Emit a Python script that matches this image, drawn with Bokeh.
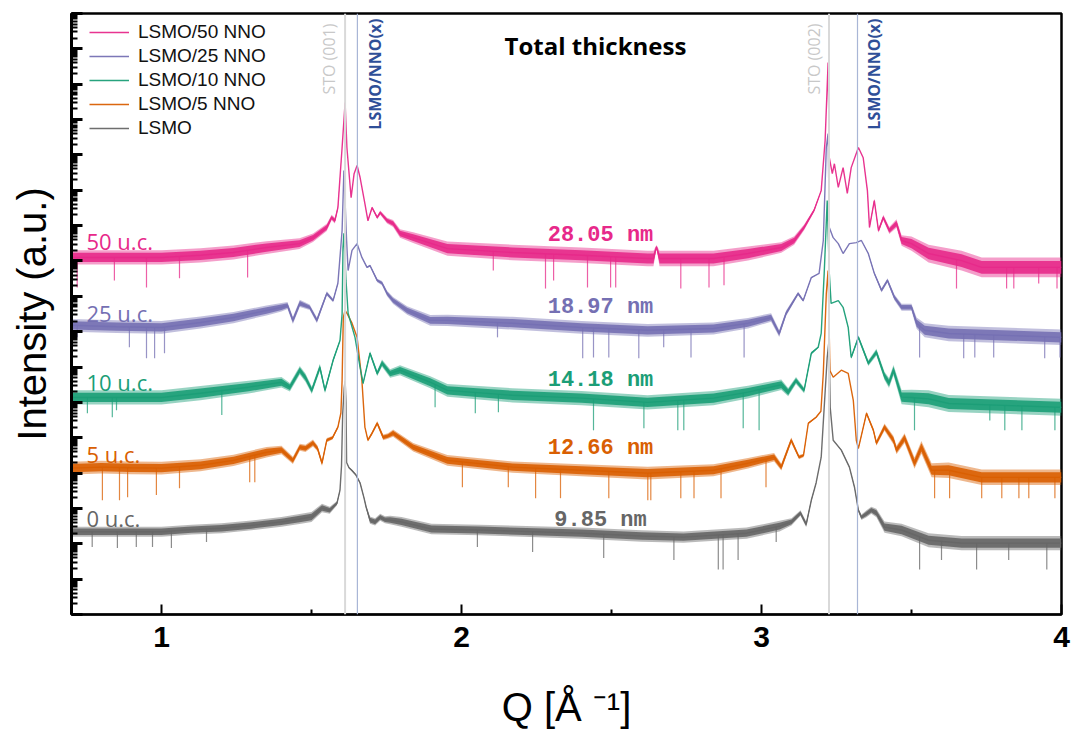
import numpy as np
from math import pi
from bokeh.plotting import figure
from bokeh.models import Range1d, FixedTicker, Label, Span, Legend, LegendItem, PrintfTickFormatter
from bokeh.embed import file_html
from bokeh.resources import INLINE

# ---------------- data (log10 of plotted intensity, offsets included) ----------------
series_names = ["LSMO/50 NNO", "LSMO/25 NNO", "LSMO/10 NNO", "LSMO/5 NNO", "LSMO"]
series_colors = ["#e7298a", "#7570b3", "#1b9e77", "#d95f02", "#666666"]
uc_labels = ["50 u.c.", "25 u.c.", "10 u.c.", "5 u.c.", "0 u.c."]
thickness_labels = ["28.05 nm", "18.97 nm", "14.18 nm", "12.66 nm", "9.85 nm"]
sto_peaks_q = [1.612, 3.225]
sto_peak_names = ["STO (001)", "STO (002)"]
film_peaks_q = [1.653, 3.320]
film_peak_names = ["LSMO/NNO(x)", "LSMO/NNO(x)"]
x_ticks = [1, 2, 3, 4]
x_minor = [1.5, 2.5, 3.5]
x_title = "Q [Å ⁻¹]"
y_title = "Intensity (a.u.)"
plot_title = "Total thickness"

lsmo_q = [0.70, 0.80, 0.90, 1.00, 1.10, 1.20, 1.30, 1.40, 1.46, 1.50, 1.535, 1.561, 1.585, 1.595, 1.600,
          1.604, 1.609, 1.612, 1.615, 1.617, 1.625, 1.634, 1.648, 1.662, 1.675, 1.682, 1.695, 1.712, 1.729,
          1.745, 1.762, 1.80, 1.90, 2.06, 2.40, 2.60, 2.74, 2.95, 3.06, 3.10, 3.13, 3.149, 3.166, 3.182,
          3.199, 3.209, 3.219, 3.225, 3.229, 3.239, 3.266, 3.293, 3.310, 3.323, 3.333, 3.350, 3.366, 3.383,
          3.410, 3.467, 3.557, 3.667, 3.80, 4.00]
lsmo_log = [2.34, 2.34, 2.34, 2.34, 2.40, 2.44, 2.52, 2.62, 2.70, 2.76, 3.01, 2.95, 3.15, 3.52, 4.20,
            5.69, 6.40, 6.62, 6.00, 4.30, 4.15, 4.08, 3.95, 3.72, 3.30, 3.04, 2.67, 2.62, 2.75,
            2.68, 2.67, 2.62, 2.42, 2.39, 2.30, 2.22, 2.19, 2.30, 2.50, 2.62, 2.87, 2.55, 3.23, 3.72,
            4.45, 5.86, 7.27, 7.75, 5.86, 4.93, 4.65, 4.17, 3.60, 2.95, 2.75, 2.85, 2.95, 2.87,
            2.47, 2.39, 2.10, 2.02, 2.02, 2.02]
lsmo_noise = [0.14, 0.14, 0.14, 0.14, 0.14, 0.14, 0.14, 0.14, 0.14, 0.14, 0.12, 0.10, 0.06, 0.03, 0.0,
              0.0, 0.0, 0.0, 0.0, 0.0, 0.02, 0.03, 0.03, 0.03, 0.03, 0.05, 0.10, 0.10, 0.10,
              0.10, 0.12, 0.14, 0.15, 0.15, 0.16, 0.16, 0.16, 0.16, 0.15, 0.10, 0.08, 0.08, 0.04, 0.02,
              0.0, 0.0, 0.0, 0.0, 0.0, 0.0, 0.02, 0.02, 0.03, 0.05, 0.08, 0.10, 0.10, 0.12,
              0.16, 0.18, 0.20, 0.20, 0.20, 0.20]
lsmo_spike_q = [0.769, 0.853, 0.916, 0.970, 1.033, 1.150, 2.053, 2.237, 2.474, 2.708, 2.856, 2.872, 2.922,
                3.049, 3.527, 3.600, 3.717, 3.824, 3.951]
lsmo_spike_log = [1.91, 1.88, 1.91, 1.91, 1.88, 2.05, 1.91, 1.77, 1.60, 1.54, 1.27, 1.27, 1.54,
                  2.05, 1.27, 1.54, 1.27, 1.54, 1.27]

nno5_q = [0.70, 0.80, 0.90, 1.00, 1.13, 1.24, 1.35, 1.40, 1.438, 1.461, 1.48, 1.505, 1.52, 1.535, 1.551,
          1.57, 1.588, 1.598, 1.602, 1.606, 1.612, 1.618, 1.635, 1.652, 1.668, 1.678, 1.688, 1.70, 1.719,
          1.739, 1.755, 1.772, 1.839, 1.953, 2.17, 2.40, 2.62, 2.84, 2.955, 3.042, 3.066, 3.099, 3.125,
          3.14, 3.156, 3.182, 3.198, 3.206, 3.216, 3.222, 3.228, 3.239, 3.266, 3.289, 3.306, 3.316, 3.323,
          3.350, 3.373, 3.383, 3.410, 3.440, 3.450, 3.477, 3.510, 3.533, 3.567, 3.624, 3.734, 3.85, 4.00]
nno5_log = [4.14, 4.17, 4.15, 4.14, 4.22, 4.36, 4.59, 4.65, 4.36, 4.73, 4.70, 4.85, 4.70, 4.28, 4.93,
            5.00, 5.30, 5.70, 6.62, 8.40, 8.60, 8.52, 8.24, 7.84, 6.62, 5.30, 4.93, 5.10, 5.41,
            5.01, 5.05, 5.13, 4.73, 4.36, 4.17, 4.08, 4.00, 4.08, 4.28, 4.45, 4.17, 4.93, 4.45,
            4.50, 5.41, 5.58, 5.75, 6.82, 9.08, 9.73, 6.90, 6.71, 6.91, 6.82, 6.06, 4.93, 4.70,
            5.69, 5.21, 4.85, 5.30, 4.93, 4.65, 4.99, 4.28, 4.73, 4.08, 4.08, 3.88, 3.88, 3.88]
nno5_noise = [0.18, 0.18, 0.18, 0.18, 0.17, 0.16, 0.15, 0.12, 0.10, 0.10, 0.10, 0.10, 0.08, 0.08, 0.06,
              0.05, 0.04, 0.02, 0.0, 0.0, 0.0, 0.0, 0.0, 0.0, 0.0, 0.02, 0.04, 0.05, 0.06,
              0.08, 0.08, 0.10, 0.12, 0.15, 0.16, 0.17, 0.18, 0.17, 0.15, 0.12, 0.10, 0.08, 0.06,
              0.05, 0.03, 0.02, 0.0, 0.0, 0.0, 0.0, 0.0, 0.0, 0.0, 0.0, 0.0, 0.02, 0.03,
              0.05, 0.06, 0.08, 0.10, 0.12, 0.12, 0.14, 0.16, 0.18, 0.20, 0.22, 0.22, 0.22, 0.22]
nno5_spike_q = [0.803, 0.860, 0.887, 0.983, 1.060, 1.294, 1.311, 2.003, 2.156, 2.247, 2.330, 2.491, 2.621,
                2.631, 2.731, 2.775, 2.865, 3.015, 3.577, 3.627, 3.734, 3.801, 3.858, 3.891, 3.978]
nno5_spike_log = [3.23, 3.23, 3.32, 3.38, 3.57, 3.74, 3.74, 3.60, 3.60, 3.29, 3.29, 3.29, 3.23,
                  3.23, 3.29, 3.29, 3.29, 3.60, 3.29, 3.29, 3.29, 3.29, 3.29, 3.29, 3.29]

nno10_q = [0.70, 0.85, 1.00, 1.13, 1.29, 1.40, 1.428, 1.461, 1.48, 1.501, 1.528, 1.545, 1.572, 1.595, 1.602,
           1.605, 1.608, 1.612, 1.615, 1.622, 1.645, 1.662, 1.672, 1.695, 1.719, 1.735, 1.762, 1.795, 1.896,
           1.953, 2.17, 2.40, 2.62, 2.84, 2.955, 3.066, 3.089, 3.115, 3.142, 3.166, 3.189, 3.199, 3.209,
           3.219, 3.226, 3.232, 3.256, 3.272, 3.289, 3.299, 3.323, 3.356, 3.383, 3.410, 3.425, 3.440, 3.467,
           3.50, 3.557, 3.624, 4.00]
nno10_log = [6.14, 6.14, 6.14, 6.26, 6.43, 6.57, 6.43, 6.91, 6.70, 6.34, 6.99, 6.34, 7.19, 7.75, 8.50,
             10.38, 10.78, 10.00, 9.45, 8.52, 7.84, 6.99, 6.54, 7.39, 6.82, 7.11, 6.82, 6.91, 6.57,
             6.34, 6.20, 6.12, 6.00, 6.12, 6.29, 6.50, 6.29, 6.62, 6.34, 7.39, 7.56, 7.95, 9.65,
             11.71, 9.65, 8.80, 8.88, 8.69, 8.12, 7.27, 7.84, 7.11, 7.42, 6.75, 6.55, 6.91, 6.15,
             6.14, 6.10, 5.97, 5.86]
nno10_noise = [0.20, 0.20, 0.20, 0.20, 0.18, 0.15, 0.12, 0.12, 0.12, 0.10, 0.10, 0.08, 0.06, 0.03, 0.0,
               0.0, 0.0, 0.0, 0.0, 0.0, 0.0, 0.02, 0.04, 0.06, 0.08, 0.10, 0.12, 0.14, 0.17,
               0.18, 0.20, 0.20, 0.20, 0.20, 0.18, 0.15, 0.12, 0.10, 0.08, 0.04, 0.02, 0.0, 0.0,
               0.0, 0.0, 0.0, 0.0, 0.0, 0.02, 0.04, 0.06, 0.08, 0.10, 0.12, 0.14, 0.15, 0.20,
               0.22, 0.24, 0.24, 0.24]
nno10_spike_q = [0.753, 0.836, 0.850, 1.201, 1.912, 2.046, 2.123, 2.440, 2.608, 2.721, 2.741, 2.939, 2.992,
                 3.510, 3.761, 3.811, 3.868, 3.978]
nno10_spike_log = [5.69, 5.58, 5.78, 5.64, 5.86, 5.69, 5.72, 5.21, 5.27, 5.21, 5.21, 5.27, 5.21,
                   5.21, 5.49, 5.21, 5.21, 5.21]

nno25_q = [0.70, 0.85, 1.00, 1.13, 1.24, 1.35, 1.40, 1.42, 1.438, 1.461, 1.494, 1.518, 1.551, 1.572, 1.588,
           1.602, 1.608, 1.617, 1.622, 1.635, 1.652, 1.668, 1.685, 1.695, 1.719, 1.735, 1.752, 1.772, 1.819,
           1.896, 1.953, 2.17, 2.40, 2.62, 2.84, 2.955, 3.032, 3.059, 3.082, 3.122, 3.139, 3.166, 3.192,
           3.206, 3.216, 3.222, 3.226, 3.239, 3.256, 3.272, 3.293, 3.316, 3.333, 3.356, 3.376, 3.400, 3.420,
           3.443, 3.467, 3.500, 3.517, 3.544, 3.624, 4.00]
nno25_log = [8.18, 8.14, 8.12, 8.26, 8.40, 8.60, 8.69, 8.74, 8.32, 8.80, 8.69, 8.32, 9.08, 8.88, 9.37,
             10.86, 12.56, 10.58, 9.73, 10.30, 10.49, 10.10, 9.82, 9.87, 9.45, 9.37, 9.08, 8.88, 8.60,
             8.32, 8.32, 8.24, 8.12, 8.04, 8.09, 8.24, 8.40, 7.95, 8.52, 9.08, 8.88, 9.53, 9.65,
             10.58, 13.21, 13.60, 10.95, 10.66, 10.49, 10.21, 10.49, 10.52, 10.58, 10.21, 9.65, 9.17, 9.45,
             8.97, 8.69, 8.69, 8.24, 8.04, 7.95, 7.84]
nno25_noise = [0.18, 0.18, 0.18, 0.17, 0.16, 0.14, 0.12, 0.10, 0.10, 0.10, 0.08, 0.08, 0.06, 0.05, 0.03,
               0.0, 0.0, 0.0, 0.0, 0.0, 0.0, 0.0, 0.02, 0.03, 0.05, 0.06, 0.08, 0.10, 0.12,
               0.15, 0.16, 0.18, 0.18, 0.18, 0.17, 0.15, 0.12, 0.10, 0.08, 0.05, 0.04, 0.02, 0.0,
               0.0, 0.0, 0.0, 0.0, 0.0, 0.0, 0.0, 0.0, 0.0, 0.0, 0.02, 0.04, 0.06, 0.06,
               0.08, 0.10, 0.10, 0.16, 0.20, 0.22, 0.22]
nno25_spike_q = [0.719, 0.893, 0.950, 0.977, 1.010, 2.120, 2.404, 2.440, 2.491, 2.591, 2.674, 2.765, 2.942,
                 3.527, 3.674, 3.711, 3.774, 3.944, 3.995]
nno25_spike_log = [7.84, 7.56, 7.25, 7.25, 7.39, 7.84, 7.25, 7.27, 7.27, 7.25, 7.56, 7.27, 7.27,
                   7.27, 7.25, 7.27, 7.27, 7.25, 7.27]

nno50_q = [0.70, 1.00, 1.13, 1.24, 1.35, 1.46, 1.505, 1.551, 1.567, 1.578, 1.588, 1.602, 1.612, 1.618, 1.632,
           1.642, 1.652, 1.662, 1.678, 1.688, 1.702, 1.719, 1.729, 1.752, 1.772, 1.795, 1.839, 1.953, 2.17,
           2.40, 2.62, 2.64, 2.65, 2.66, 2.84, 2.955, 3.066, 3.109, 3.142, 3.175, 3.199, 3.212, 3.222,
           3.226, 3.236, 3.243, 3.256, 3.272, 3.286, 3.299, 3.323, 3.339, 3.353, 3.360, 3.376, 3.390, 3.406,
           3.426, 3.45, 3.467, 3.50, 3.557, 3.667, 3.734, 4.00]
nno50_log = [10.10, 10.10, 10.16, 10.24, 10.38, 10.49, 10.66, 10.95, 11.23, 11.14, 11.51, 13.21, 14.48, 13.21, 11.79,
             12.47, 12.70, 12.36, 11.62, 11.14, 11.51, 11.23, 11.37, 11.14, 11.06, 10.78, 10.66, 10.35, 10.24,
             10.16, 10.07, 10.07, 10.40, 10.07, 10.07, 10.21, 10.38, 10.58, 10.95, 11.43, 11.99, 13.40, 15.61,
             12.92, 12.47, 12.75, 12.08, 12.64, 11.91, 12.64, 13.21, 12.92, 11.99, 10.95, 11.71, 10.86, 11.23,
             10.86, 11.06, 10.58, 10.49, 10.21, 10.01, 9.82, 9.82]
nno50_noise = [0.20, 0.20, 0.20, 0.20, 0.18, 0.15, 0.12, 0.10, 0.08, 0.08, 0.05, 0.0, 0.0, 0.0, 0.0,
               0.0, 0.0, 0.0, 0.0, 0.02, 0.03, 0.05, 0.06, 0.08, 0.10, 0.12, 0.15, 0.20, 0.22,
               0.22, 0.22, 0.22, 0.05, 0.22, 0.22, 0.20, 0.15, 0.12, 0.08, 0.05, 0.02, 0.0, 0.0,
               0.0, 0.0, 0.0, 0.0, 0.0, 0.0, 0.0, 0.0, 0.0, 0.02, 0.04, 0.05, 0.06, 0.08,
               0.10, 0.12, 0.15, 0.20, 0.25, 0.28, 0.28, 0.28]
nno50_spike_q = [0.719, 0.843, 0.950, 1.060, 1.287, 2.106, 2.280, 2.307, 2.420, 2.497, 2.514, 2.731, 2.825,
                 2.875, 3.650, 3.817, 3.841, 3.924, 3.985]
nno50_spike_log = [9.25, 9.45, 9.25, 9.51, 9.53, 9.73, 9.22, 9.45, 9.25, 9.25, 9.25, 9.22, 9.25,
                   9.31, 9.22, 9.22, 9.22, 9.36, 9.22]

series_q = [nno50_q, nno25_q, nno10_q, nno5_q, lsmo_q]
series_log = [nno50_log, nno25_log, nno10_log, nno5_log, lsmo_log]
series_noise = [nno50_noise, nno25_noise, nno10_noise, nno5_noise, lsmo_noise]
series_spike_q = [nno50_spike_q, nno25_spike_q, nno10_spike_q, nno5_spike_q, lsmo_spike_q]
series_spike_log = [nno50_spike_log, nno25_spike_log, nno10_spike_log, nno5_spike_log, lsmo_spike_log]

# ---------------- layout ----------------
W, H = 1072, 731
FL, FR, FT, FB = 71, 1061, 13, 614
X0, X1 = 0.7, 4.0
D0, D1 = 0, 17


def qx(px):
    return X0 + (px - FL) * (X1 - X0) / (FR - FL)


def ly(py):
    return 10.0 ** (D0 + (FB - py) * (D1 - D0) / (FB - FT))


p = figure(width=W, height=H, output_backend="svg", toolbar_location=None,
           x_range=Range1d(X0, X1), y_range=Range1d(10.0 ** D0, 10.0 ** D1), y_axis_type="log",
           min_border_left=FL, min_border_right=W - FR, min_border_top=FT, min_border_bottom=H - FB)
p.grid.visible = False
p.background_fill_color = "white"
p.border_fill_color = "white"
p.outline_line_color = "black"
p.outline_line_width = 2.5

xa = p.xaxis[0]
xa.ticker = FixedTicker(ticks=x_ticks, minor_ticks=x_minor)
xa.major_tick_in = 10
xa.major_tick_out = 0
xa.minor_tick_in = 5
xa.minor_tick_out = 0
xa.axis_line_width = 2
xa.major_tick_line_width = 2
xa.minor_tick_line_width = 2
xa.major_label_text_font = "Liberation Sans"
xa.major_label_text_font_size = "30px"
xa.major_label_text_font_style = "bold"
xa.major_label_text_color = "black"
xa.major_label_standoff = 12
xa.axis_label = x_title
xa.axis_label_text_font = "Liberation Sans"
xa.axis_label_text_font_size = "40px"
xa.axis_label_text_font_style = "normal"
xa.axis_label_text_color = "black"
xa.axis_label_standoff = 35

ya = p.yaxis[0]
ya.ticker = FixedTicker(ticks=[10.0 ** k for k in range(D0, D1 + 1)],
                        minor_ticks=[m * 10.0 ** k for k in range(D0, D1) for m in range(2, 10)])
ya.formatter = PrintfTickFormatter(format=" ")
ya.major_tick_in = 11
ya.major_tick_out = 0
ya.minor_tick_in = 6
ya.minor_tick_out = 0
ya.axis_line_width = 3
ya.major_tick_line_width = 3
ya.minor_tick_line_width = 2
ya.major_label_text_font_size = "4px"
ya.major_label_text_alpha = 0.0
ya.major_label_standoff = 0
ya.axis_label = y_title
ya.axis_label_text_font = "Liberation Sans"
ya.axis_label_text_font_size = "40px"
ya.axis_label_text_font_style = "normal"
ya.axis_label_text_color = "black"
ya.axis_label_standoff = 18

# reference lines
for q in sto_peaks_q:
    p.add_layout(Span(location=q, dimension="height", line_color="#d9d9d9", line_width=2))
for q in film_peaks_q:
    p.add_layout(Span(location=q, dimension="height", line_color="#a9b6d6", line_width=1.2))

# spectra (drawn from bottom curve to top curve)
line_renderers = {}
for i in reversed(range(len(series_names))):
    col = series_colors[i]
    q = np.array(series_q[i])
    L = np.array(series_log[i])
    a = np.array(series_noise[i])
    # outer (sparse) and inner (dense) parts of the noise band
    p.varea(x=q, y1=10 ** (L - a), y2=10 ** (L + a), fill_color=col, fill_alpha=0.45)
    p.varea(x=q, y1=10 ** (L - 0.65 * a), y2=10 ** (L + 0.65 * a), fill_color=col, fill_alpha=0.9)
    sq = np.array(series_spike_q[i])
    base = np.interp(sq, q, L)
    p.segment(x0=sq, y0=10 ** np.array(series_spike_log[i]), x1=sq, y1=10 ** base,
              line_color=col, line_width=1.2, line_alpha=0.75)
    line_renderers[i] = p.line(q, 10 ** L, line_color=col, line_width=1.4, line_alpha=0.95)

legend = Legend(items=[LegendItem(label=series_names[i], renderers=[line_renderers[i]])
                       for i in range(len(series_names))],
                location=(18, 475), orientation="vertical", padding=0, margin=0, spacing=2,
                glyph_height=22, glyph_width=40, label_height=22, label_standoff=9,
                label_text_font="Liberation Sans", label_text_font_size="19px",
                label_text_color="#111111", border_line_color=None, background_fill_alpha=0)
p.add_layout(legend)

# series annotations
uc_y = [240, 312, 381, 453, 517]
nm_y = [235, 307, 380, 448, 520]
for i in range(len(series_names)):
    p.add_layout(Label(x=qx(86), y=ly(uc_y[i]), text=uc_labels[i], text_font="Open Sans",
                       text_font_size="22px", text_color=series_colors[i],
                       text_align="left", text_baseline="alphabetic"))
    p.add_layout(Label(x=qx(600), y=ly(nm_y[i]), text=thickness_labels[i], text_font="Liberation Mono",
                       text_font_style="bold", text_font_size="22px", text_color=series_colors[i],
                       text_align="center", text_baseline="alphabetic"))

p.add_layout(Label(x=qx(595), y=ly(45), text=plot_title, text_font="Open Sans",
                   text_font_style="bold", text_font_size="24px", text_color="black",
                   text_align="center", text_baseline="alphabetic"))

# peak labels (vertical)
sto_base_px = [328.5, 813.5]
film_base_px = [374.5, 873.5]
for k in range(2):
    p.add_layout(Label(x=qx(sto_base_px[k]), y=ly(23), text=sto_peak_names[k], angle=pi / 2,
                       text_font="Open Sans", text_font_size="16px", text_color="#c8c8c8",
                       text_align="right", text_baseline="alphabetic"))
    p.add_layout(Label(x=qx(film_base_px[k]), y=ly(18), text=film_peak_names[k], angle=pi / 2,
                       text_font="Open Sans", text_font_style="bold", text_font_size="16px",
                       text_color="#2f4f98", text_align="right", text_baseline="alphabetic"))

open("out.html", "w").write(file_html(p, INLINE))
